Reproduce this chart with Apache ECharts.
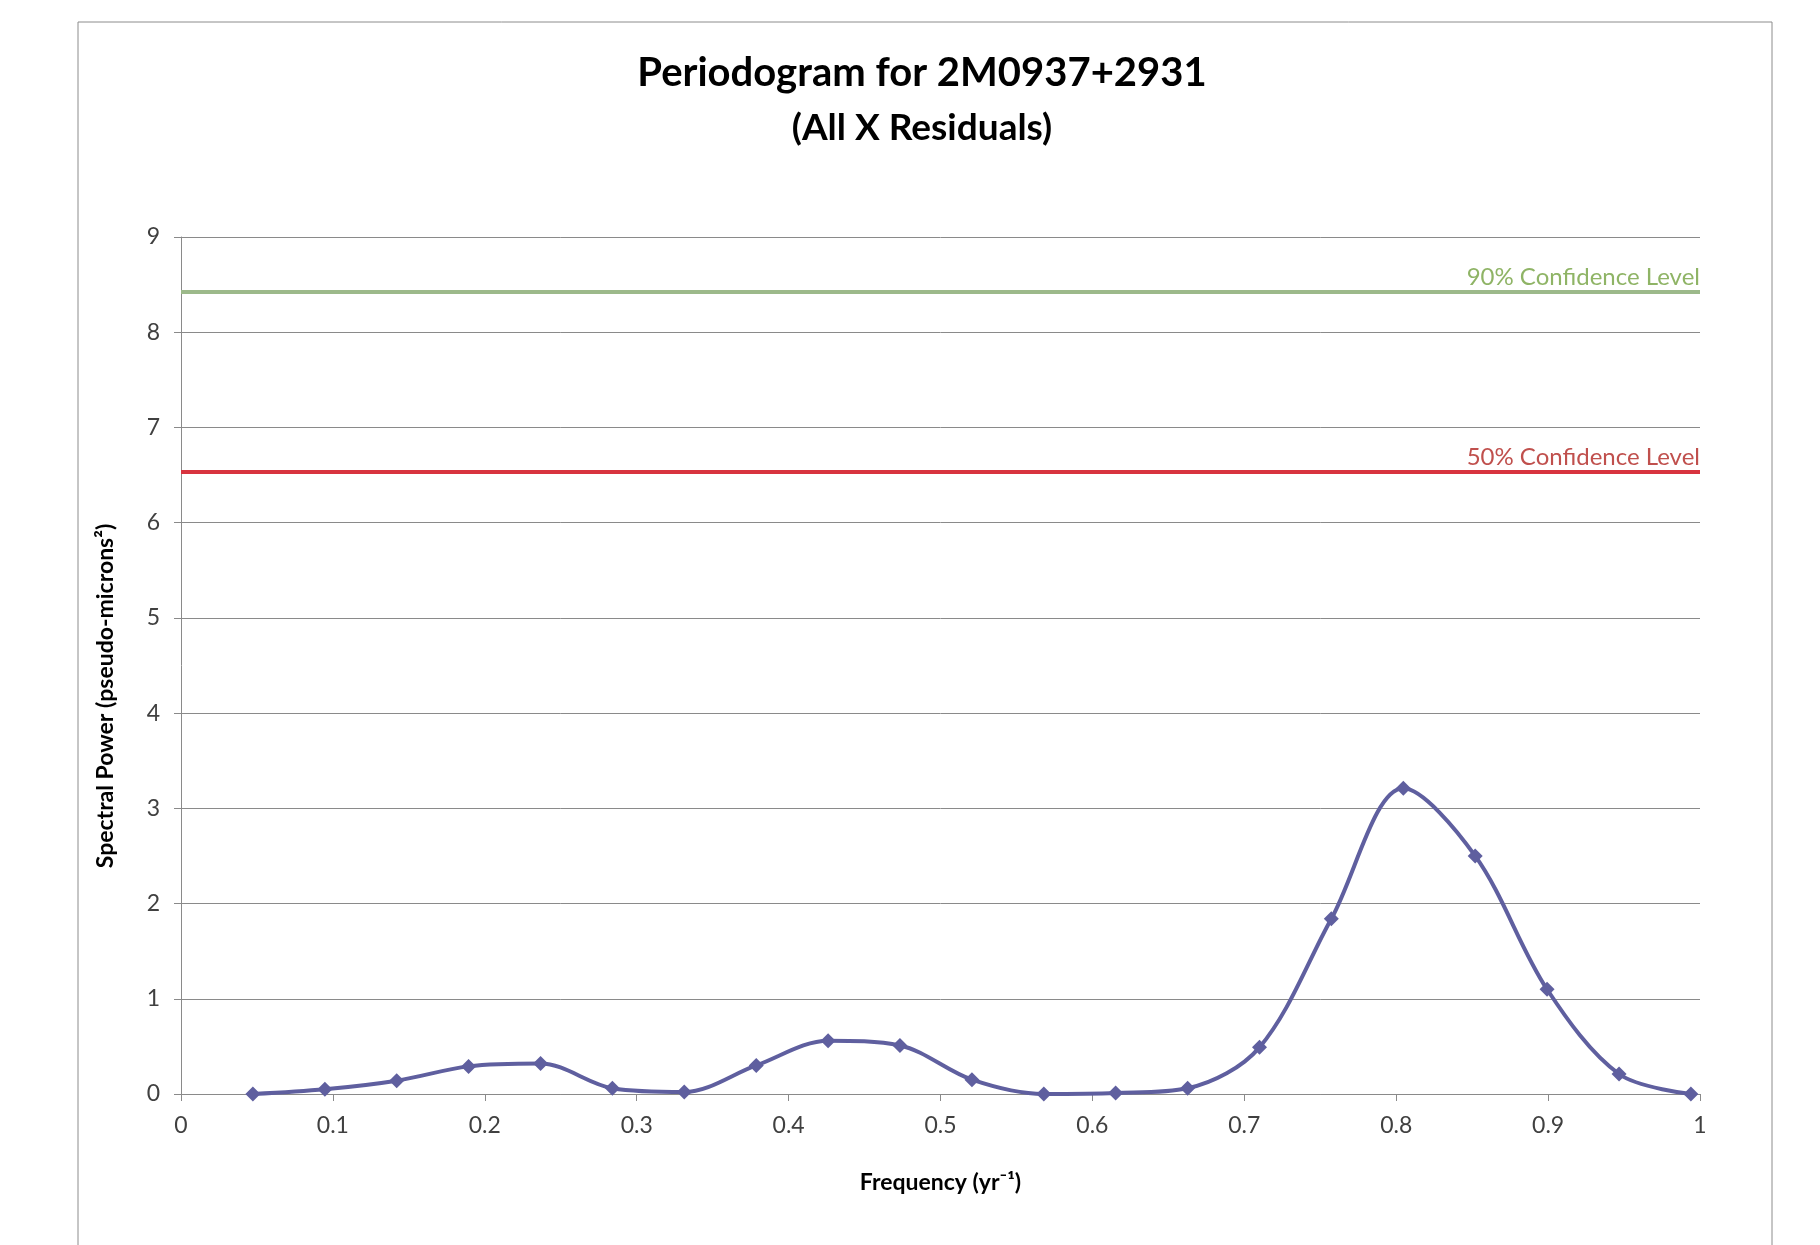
<!DOCTYPE html>
<html><head><meta charset="utf-8">
<script src="https://cdn.jsdelivr.net/npm/echarts@6/dist/echarts.min.js"></script>
<style>html,body{margin:0;padding:0;background:#fff}#c{width:1820px;height:1245px}</style>
</head><body><div id="c"></div>
<script>
const frequency = [0.0473,0.0947,0.1420,0.1893,0.2367,0.2840,0.3313,0.3787,0.4260,0.4733,0.5207,0.5680,0.6153,0.6627,0.7100,0.7573,0.8047,0.8520,0.8993,0.9467,0.9940];
const power = [0.00,0.05,0.14,0.29,0.32,0.06,0.02,0.30,0.56,0.51,0.15,0.00,0.01,0.06,0.49,1.84,3.21,2.50,1.10,0.21,0.00];
const conf90 = 8.42;
const conf50 = 6.53;
const xTicks = {min:0,max:1,step:0.1};
const yTicks = {min:0,max:9,step:1};
const titleText = 'Periodogram for 2M0937+2931';
const subtitleText = '(All X Residuals)';
const xName = 'Frequency (yr⁻¹)';
const yName = 'Spectral Power (pseudo-microns²)';

const FONT = 'Lato';
const chart = echarts.init(document.getElementById('c'), null, {renderer:'canvas'});
chart.setOption({
  backgroundColor:'#fff',
  animation:false,
  graphic:[
    {type:'rect',shape:{x:78,y:22,width:1694,height:1300},style:{fill:'none',stroke:'#8c8c8c',lineWidth:1}},
    {type:'text',x:106,y:696,rotation:Math.PI/2,style:{text:yName,align:'center',verticalAlign:'middle',fontFamily:FONT,fontWeight:'bold',fontSize:23,fill:'#000'}}
  ],
  title:[
    {text:titleText,left:917,textAlign:'center',top:48,textStyle:{fontFamily:FONT,fontWeight:'bold',fontSize:40,color:'#000'}},
    {text:subtitleText,left:917,textAlign:'center',top:105,textStyle:{fontFamily:FONT,fontWeight:'bold',fontSize:37,color:'#000'}}
  ],
  grid:{left:181,right:120,top:237,bottom:151,containLabel:false},
  xAxis:{type:'value',min:xTicks.min,max:xTicks.max,interval:xTicks.step,
    name:xName,nameLocation:'middle',nameGap:77,
    nameTextStyle:{fontFamily:FONT,fontWeight:'bold',fontSize:23,color:'#000'},
    axisLine:{show:true,lineStyle:{color:'#8a8a8a',width:1}},
    axisTick:{show:true,inside:false,length:7,lineStyle:{color:'#8a8a8a'}},
    axisLabel:{margin:20,fontFamily:FONT,fontSize:23,color:'#404040'},
    splitLine:{show:false}},
  yAxis:{type:'value',min:yTicks.min,max:yTicks.max,interval:yTicks.step,
    axisLine:{show:true,lineStyle:{color:'#8a8a8a',width:1}},
    axisTick:{show:true,inside:false,length:7,lineStyle:{color:'#8a8a8a'}},
    axisLabel:{margin:21,fontFamily:FONT,fontSize:23,color:'#404040'},
    splitLine:{show:true,lineStyle:{color:'#8a8a8a',width:1}}},
  series:[{
    type:'line',
    data:frequency.map((f,i)=>[f,power[i]]),
    smooth:0.33,
    symbol:'diamond',symbolSize:15,
    lineStyle:{color:'#5f5f9f',width:4},
    itemStyle:{color:'#5f5f9f'},
    z:5,
    markLine:{
      silent:true,symbol:['none','none'],
      data:[
        {yAxis:conf90,lineStyle:{color:'#9cb98a',width:4,type:'solid'},
          label:{show:true,position:'insideEndTop',formatter:'90% Confidence Level',fontFamily:FONT,fontSize:24,color:'#8fb466',distance:[0,3]}},
        {yAxis:conf50,lineStyle:{color:'#d8343f',width:4,type:'solid'},
          label:{show:true,position:'insideEndTop',formatter:'50% Confidence Level',fontFamily:FONT,fontSize:24,color:'#c0504d',distance:[0,3]}}
      ]
    }
  }]
});
</script></body></html>
